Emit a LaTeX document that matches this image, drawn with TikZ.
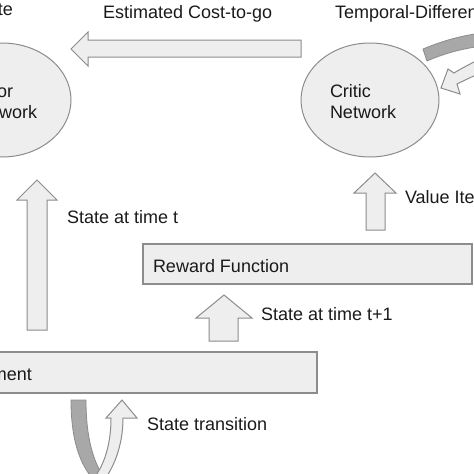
\documentclass[tikz,border=0pt]{standalone}
\usepackage{fontspec}
\setmainfont{Liberation Sans}
\usetikzlibrary{shapes.geometric}
\definecolor{fillg}{HTML}{EEEEEE}
\definecolor{edgeg}{HTML}{8C8C8C}
\definecolor{darkg}{HTML}{A8A8A8}
\definecolor{inkg}{HTML}{1A1A1A}
\begin{document}
\begin{tikzpicture}[x=1pt,y=-1pt,
  every node/.style={font=\fontsize{18}{21}\selectfont, text=inkg, inner sep=0pt, outer sep=0pt},
  blob/.style={ellipse, draw=edgeg, line width=1pt, fill=fillg, minimum width=138pt, minimum height=114pt},
  panel/.style={rectangle, draw=edgeg, line width=1.3pt, fill=fillg},
  blockarrow/.style={draw=edgeg, line width=1pt, fill=fillg, line join=miter},
  backband/.style={draw=edgeg, line width=0.8pt, fill=darkg, line join=round},
  lbl/.style={anchor=base west}]
\useasboundingbox (0,0) rectangle (474,474);

% networks
\node[blob] (actor) at (2,100) {};
\node[blob] (critic) at (370,100) {};
\node[lbl] (actorA) at (-29,97) {Actor};
\node[lbl] (actorB) at (-29,118) {Network};
\node[lbl] (criticA) at (330,97) {Critic};
\node[lbl] (criticB) at (330,118) {Network};

% boxes
\node[panel, minimum width=329pt, minimum height=40pt] (reward) at (307.5,264) {};
\node[lbl] (rewardtxt) at (153,272) {Reward Function};
\node[panel, minimum width=337pt, minimum height=41pt] (env) at (148.5,372.5) {};
\node[anchor=base east] (envtxt) at (32,380) {Environment};

% block arrows
\draw[blockarrow] (301,40) -- (88,40) -- (88,32) -- (71,49) -- (88,66) -- (88,57) -- (301,57) -- cycle;
\draw[blockarrow] (27,330) -- (27,200) -- (17,200) -- (37,180) -- (57,200) -- (47,200) -- (47,330) -- cycle;
\draw[blockarrow] (209,341) -- (209,318) -- (196,318) -- (224,295) -- (252,318) -- (238,318) -- (238,341) -- cycle;
\draw[blockarrow] (366,230) -- (366,193) -- (354,193) -- (375,173) -- (396,193) -- (385,193) -- (385,230) -- cycle;

% temporal-difference ribbon (top right)
\draw[backband] (423,49) .. controls (440,42) and (458,36) .. (482,33) -- (482,46) .. controls (460,49) and (443,54) .. (427,61) -- cycle;
\draw[blockarrow] (482,58) .. controls (472,63) and (462,68) .. (454,73) -- (448,69) -- (441,88) -- (460,94) -- (457,84) .. controls (465,80) and (474,76) .. (482,72) -- cycle;

% state transition ribbon (bottom)
\draw[backband] (71,400) -- (86,400) .. controls (86,440) and (94,462) .. (104,478) -- (94,480) .. controls (80,465) and (71,440) .. (71,400) -- cycle;
\draw[blockarrow] (94,478) .. controls (104,465) and (111,445) .. (111,418) -- (106,418) -- (122,400) -- (137,418) -- (123,418) .. controls (123,448) and (112,470) .. (104,480) -- cycle;

% labels
\node[anchor=base east] (updtxt) at (13,15) {Policy Update};
\node[lbl] (costtxt) at (103,18) {Estimated Cost-to-go};
\node[lbl] (tdtxt) at (335,18) {Temporal-Difference Learning};
\node[lbl] (sttxt) at (67,223) {State at time t};
\node[lbl] (viitxt) at (405,203) {Value Iteration};
\node[lbl] (st1txt) at (261,320) {State at time t+1};
\node[lbl] (transtxt) at (147,430) {State transition};
\end{tikzpicture}
\end{document}
